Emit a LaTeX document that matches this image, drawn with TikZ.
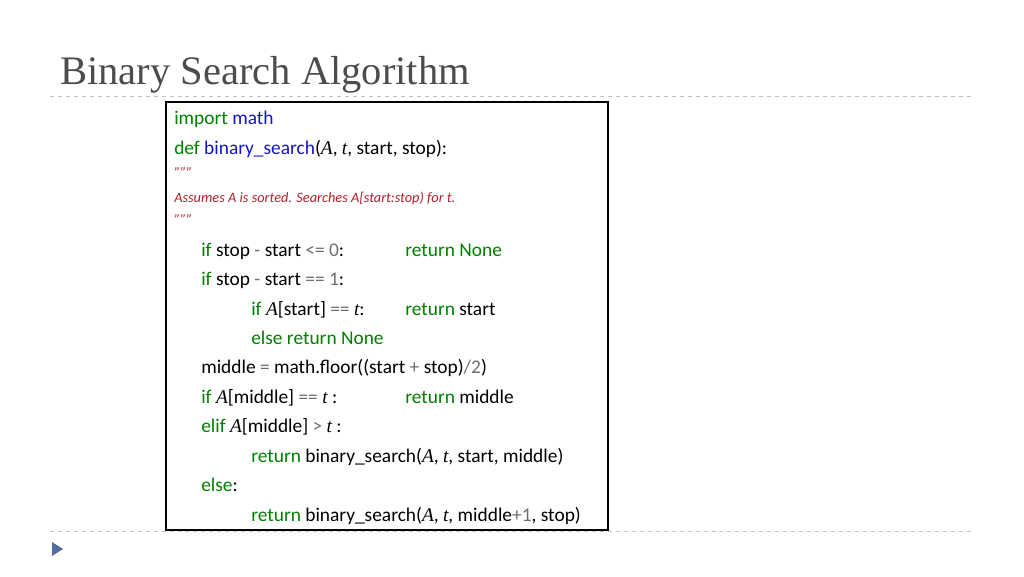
\documentclass[tikz,border=0pt]{standalone}
\usepackage{fontspec}
\usepackage{xcolor}
\setmainfont{Carlito}
\newfontfamily\titlefont{Liberation Serif}
\newfontfamily\mathfont{Liberation Serif}
\definecolor{kw}{RGB}{0,128,0}
\definecolor{fn}{RGB}{20,20,200}
\definecolor{doc}{RGB}{180,30,40}
\definecolor{num}{RGB}{110,110,110}
\definecolor{rule}{RGB}{190,195,205}
\definecolor{bullet}{RGB}{80,110,160}
\newcommand{\kw}[1]{\textcolor{kw}{#1}}
\newcommand{\op}[1]{\textcolor{num}{#1}}
\newcommand{\vA}{{\mathfont\itshape A}}
\newcommand{\vt}{{\mathfont\itshape t}}
\tikzset{
    code/.style={anchor=base west, inner sep=0pt, font=\fontsize{14.6}{16}\selectfont},
    docline/.style={anchor=base west, inner sep=0pt, text=doc, font=\fontsize{10.8}{12}\selectfont\itshape},
    sepline/.style={rule, dashed, line width=0.6pt}
}
\begin{document}
\begin{tikzpicture}[x=0.0264583cm, y=-0.0264583cm]
    \useasboundingbox (0,0) rectangle (1024,576);
    % Title and rules
    \node[anchor=base west, inner sep=0pt, text=black!70, font=\fontsize{30.5}{34}\titlefont] (title) at (60,84) {Binary Search Algorithm};
    \draw[sepline] (50,96) -- (972,96);
    \draw[sepline] (50,531) -- (972,531);
    \fill[bullet] (52,542) -- (63,549) -- (52,556) -- cycle;

    % Code box
    \draw[line width=1.2pt] (166,102) rectangle (608,530);
    \node[code] (l1) at (174,124) {\kw{import} \textcolor{fn}{math}};
    \node[code] (l2) at (174,154) {\kw{def} \textcolor{fn}{binary\_search}(\vA, \vt, start, stop):};
    \node[docline] (l3) at (174,177) {"""};
    \node[docline] (l4) at (174,202) {Assumes A is sorted. Searches A[start:stop) for t.};
    \node[docline] (l5) at (174,224) {"""};
    \node[code] (l6) at (201,256) {\kw{if} stop \op{-} start \op{<= 0}:};
    \node[code] (r6) at (405,256) {\kw{return None}};
    \node[code] (l7) at (201,285) {\kw{if} stop \op{-} start \op{== 1}:};
    \node[code] (l8) at (251,315) {\kw{if} \vA[start] \op{==} \vt:};
    \node[code] (r8) at (405,315) {\kw{return} start};
    \node[code] (l9) at (251,344) {\kw{else return None}};
    \node[code] (l10) at (201,373) {middle \op{=} math.floor((start \op{+} stop)\op{/2})};
    \node[code] (l11) at (201,403) {\kw{if} \vA[middle] \op{==} \vt\ :};
    \node[code] (r11) at (405,403) {\kw{return} middle};
    \node[code] (l12) at (201,432) {\kw{elif} \vA[middle] \op{>} \vt\ :};
    \node[code] (l13) at (251,462) {\kw{return} binary\_search(\vA, \vt, start, middle)};
    \node[code] (l14) at (201,491) {\kw{else}:};
    \node[code] (l15) at (251,521) {\kw{return} binary\_search(\vA, \vt, middle\op{+1}, stop)};
\end{tikzpicture}
\end{document}
